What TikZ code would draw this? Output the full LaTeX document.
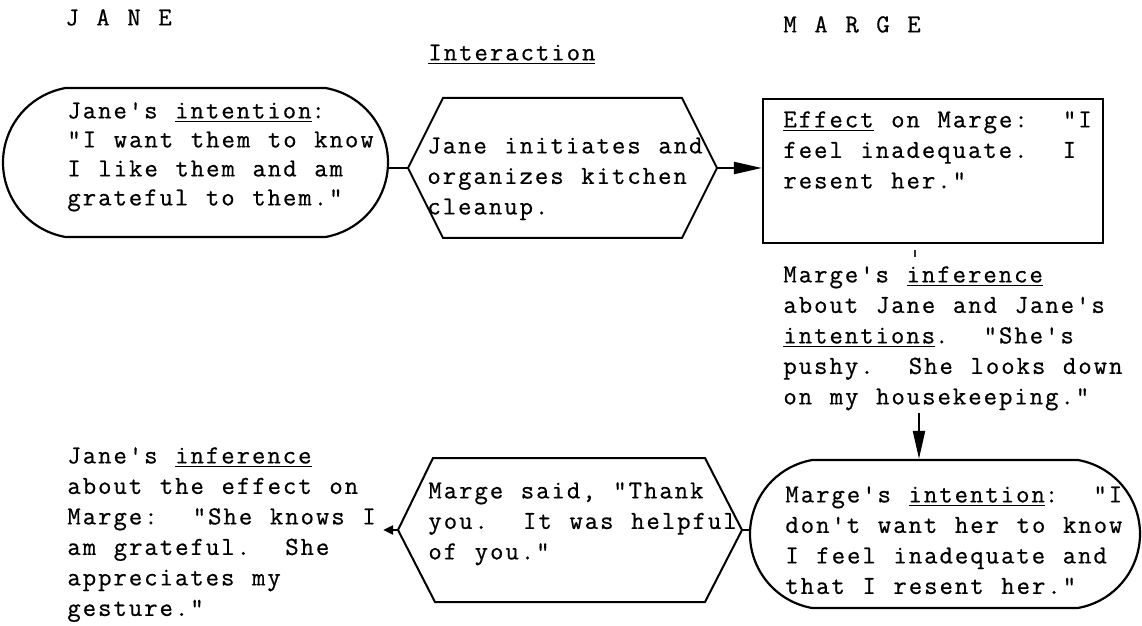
\documentclass[tikz,border=0pt]{standalone}
\usepackage{fontspec}
% typewriter face, spaced out to a ~7.8pt pitch and slightly darkened
\newfontfamily\twfont{Latin Modern Mono}[LetterSpace=7.6, WordSpace={1.145,0,0}, FakeBold=0.6]
\usetikzlibrary{shapes.misc,arrows.meta}
% fixed height for the first line of every text block (11pt above its baseline)
\newcommand\tzstrut{\rule{0pt}{11pt}}

\begin{document}
\begin{tikzpicture}[x=0.5pt,y=-0.5pt,
  txt/.style={font=\twfont\fontsize{13pt}{15.25pt}\selectfont\frenchspacing,
              align=left, anchor=north west, inner sep=0pt},
  tight/.style={font=\twfont\fontsize{13pt}{14.5pt}\selectfont\frenchspacing},
  outline/.style={draw, line width=1.1pt},
  stadium/.style={outline, rounded rectangle, rounded rectangle arc length=160, inner sep=0pt},
  hexline/.style={draw, line width=1pt, line join=miter},
  conn/.style={draw, line width=1.1pt},
  bigtip/.style={-{Triangle[length=14pt,width=6pt]}},
  smalltip/.style={-{Triangle[length=5pt,width=4.5pt]}},
  faint/.style={draw, line width=0.8pt, black!80}
]
\fill[white] (0,0) rectangle (1142,626);
\useasboundingbox (0,0) rectangle (1142,626);

% column headings (first baselines at y+22)
\node[txt] (jane)  at (65,3)   {\tzstrut J A N E};
\node[txt] (marge) at (783,10) {\tzstrut M A R G E};
\node[txt] (inter) at (428,38) {\tzstrut\underline{Interaction}};

% outlines of the boxes
\node[stadium, minimum width=192.5pt, minimum height=74.5pt] (jint) at (195.5,162.5) {};
\node[outline, minimum width=170pt, minimum height=72pt, inner sep=0pt] (eff) at (933,171) {};
\node[stadium, minimum width=195pt, minimum height=74pt] (mint) at (945,534) {};

% interaction hexagons
\draw[hexline] (408,168) coordinate (h1w) -- (443,98) -- (682,98)
  -- (717,168) coordinate (h1e) -- (682,238) -- (443,238) -- cycle;
\draw[hexline] (398,530) coordinate (h2w) -- (433,458) -- (705,458)
  -- (742,530) coordinate (h2e) -- (705,602) -- (435,602) -- cycle;

% texts
\node[txt, tight] (jintT) at (67,96)
  {\tzstrut Jane's \underline{intention}:\\
   "I want them to know\\
   I like them and am\\
   grateful to them."};
\node[txt] (h1T) at (427,131)
  {\tzstrut Jane initiates and\\
   organizes kitchen\\
   cleanup.};
\node[txt] (effT) at (783,105)
  {\tzstrut\underline{Effect} on Marge:~ "I\\
   feel inadequate.~ I\\
   resent her."};
\node[txt] (minf) at (783,260)
  {\tzstrut Marge's \underline{inference}\\
   about Jane and Jane's\\
   \underline{intentions}.~ "She's\\
   pushy.~ She looks down\\
   on my housekeeping."};
\node[txt] (jinf) at (67,441)
  {\tzstrut Jane's \underline{inference}\\
   about the effect on\\
   Marge:~ "She knows I\\
   am grateful.~ She\\
   appreciates my\\
   gesture."};
\node[txt] (h2T) at (428,476)
  {\tzstrut Marge said, "Thank\\
   you.~ It was helpful\\
   of you."};
\node[txt] (mintT) at (785,480)
  {\tzstrut Marge's \underline{intention}:~ "I\\
   don't want her to know\\
   I feel inadequate and\\
   that I resent her."};

% connectors
\coordinate (tickx) at (915,0);
\coordinate (downx) at (919,0);
\draw[conn] (jint.east |- h1w) -- (h1w);
\draw[conn, bigtip] (h1e) -- (h1e -| eff.west);
\draw[faint, shorten <=3pt, shorten >=1.5pt] (tickx |- eff.south) -- (tickx |- minf.north);
\draw[conn, bigtip, shorten <=1pt] (downx |- minf.south) -- (downx |- mint.north);
\draw[conn, smalltip, shorten >=3.5pt] (h2w) -- (h2w -| jinf.east);
\draw[conn] (h2e) -- (h2e -| mint.west);
\end{tikzpicture}
\end{document}
